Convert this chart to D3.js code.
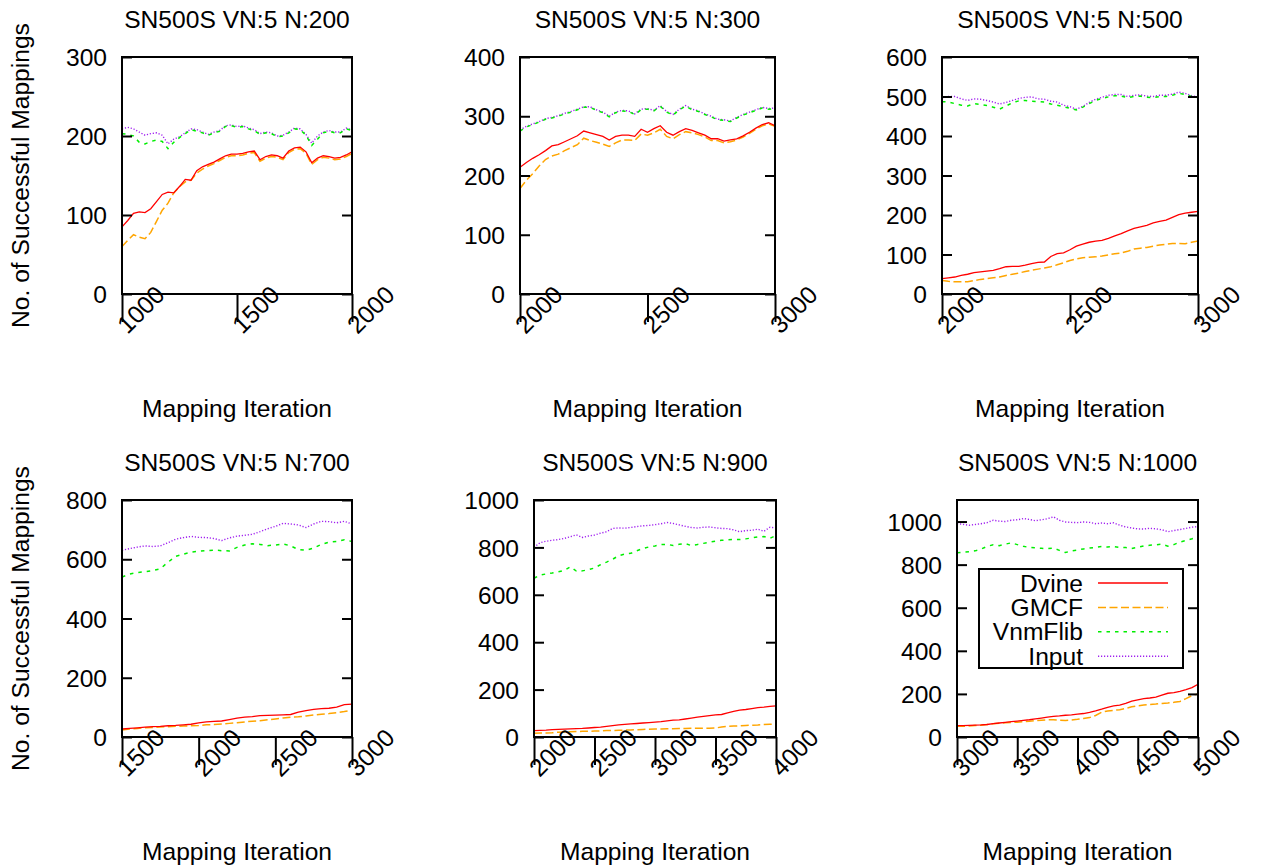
<!DOCTYPE html>
<html><head><meta charset="utf-8">
<script src="https://cdn.jsdelivr.net/npm/d3@7"></script>
<style>body{margin:0;background:#fff} text{font-family:"Liberation Sans",Arial,Helvetica,sans-serif;}</style>
</head><body><svg id="c" width="1261" height="867"></svg>
<script>
// ---------------- data ----------------
const seriesNames = ["Dvine", "GMCF", "VnmFlib", "Input"];
const panelTitles = ["SN500S VN:5 N:200", "SN500S VN:5 N:300", "SN500S VN:5 N:500",
                     "SN500S VN:5 N:700", "SN500S VN:5 N:900", "SN500S VN:5 N:1000"];
const xDomains = [[1000, 2000], [2000, 3000], [2000, 3000], [1500, 3000], [2000, 4000], [3000, 5000]];
const xSampleSteps = [25, 25, 25, 50, 50, 50];
const xTickValues = [[1000, 1500, 2000], [2000, 2500, 3000], [2000, 2500, 3000],
                     [1500, 2000, 2500, 3000], [2000, 2500, 3000, 3500, 4000], [3000, 3500, 4000, 4500, 5000]];
const yDomains = [[0, 300], [0, 400], [0, 600], [0, 800], [0, 1000], [0, 1100]];
const yTickValues = [[0, 100, 200, 300], [0, 100, 200, 300, 400], [0, 100, 200, 300, 400, 500, 600],
                     [0, 200, 400, 600, 800], [0, 200, 400, 600, 800, 1000], [0, 200, 400, 600, 800, 1000]];
const xLabel = "Mapping Iteration";
const yLabel = "No. of Successful Mappings";

const p1Dvine   = [85,93,102,104,103,108,117,126,129,128,136,145,144,156,161,164,167,171,175,177,177,178,180,181,170,174,176,175,172,181,185,186,180,166,172,175,174,172,173,176,180];
const p1GMCF    = [60,68,75,72,70,78,92,106,115,128,136,142,144,153,158,162,165,169,173,175,175,176,178,179,168,172,174,173,170,179,183,184,178,164,170,173,172,170,171,174,178];
const p1VnmFlib = [203,202,200,192,190,193,195,193,184,192,198,203,208,206,204,201,204,206,212,213,211,212,209,207,202,204,203,199,200,204,209,208,201,188,196,204,206,204,204,209,207];
const p1Input   = [209,211,209,205,201,203,204,201,190,196,199,204,209,208,205,202,205,207,213,214,212,213,210,208,203,205,204,200,201,205,210,209,202,191,200,205,207,205,205,210,208];

const p2Dvine   = [214,222,229,235,242,250,252,257,262,267,275,272,269,266,260,266,268,268,266,278,273,279,284,273,268,274,279,276,272,268,262,262,258,260,262,267,273,280,286,289,284];
const p2GMCF    = [178,192,203,216,227,233,236,242,247,252,263,259,256,253,249,255,260,260,259,270,268,272,278,266,262,269,274,272,269,265,259,259,255,257,260,265,271,278,284,287,283];
const p2VnmFlib = [275,282,286,290,295,297,300,304,307,311,315,315,310,306,299,306,309,308,303,311,312,309,317,307,302,311,317,311,308,303,299,294,293,291,297,302,306,310,314,312,313];
const p2Input   = [277,283,287,291,296,298,301,305,308,312,316,316,311,307,300,307,310,309,304,312,313,310,318,308,303,312,318,312,309,304,300,295,294,292,298,303,307,311,315,313,314];

const p3Dvine   = [39,41,43,47,50,54,56,58,60,64,69,70,70,73,77,80,81,95,102,104,112,121,126,131,134,136,141,147,153,160,166,170,174,180,184,187,194,201,205,207,209];
const p3GMCF    = [34,32,31,31,31,34,37,39,41,43,47,50,53,57,60,63,66,69,74,79,85,89,92,93,94,96,99,102,104,108,114,116,118,121,124,126,128,128,127,131,134];
const p3VnmFlib = [487,486,482,478,476,482,480,477,473,468,476,484,489,490,488,487,486,481,478,474,470,466,473,482,490,495,499,502,501,497,500,501,498,497,500,500,503,508,505,500,497];
const p3Input   = [497,500,500,494,490,494,493,490,486,481,485,490,495,498,499,494,493,488,486,478,474,468,475,485,493,498,503,505,505,500,503,504,501,500,503,503,506,511,508,502,499];

const p4Dvine   = [27,29,31,33,35,36,38,39,41,43,48,51,53,54,59,64,67,69,72,73,74,75,76,84,89,93,96,97,101,109,111];
const p4GMCF    = [24,27,29,31,32,34,35,36,37,38,39,41,42,44,46,48,51,53,55,58,61,64,67,68,71,74,77,79,82,86,91];
const p4VnmFlib = [540,550,555,558,562,568,590,610,617,624,627,629,631,629,628,640,648,652,650,646,648,652,645,633,630,638,650,658,660,666,660];
const p4Input   = [630,636,641,645,643,645,656,668,673,677,674,673,670,663,672,678,681,684,693,703,711,721,719,716,707,719,728,727,723,728,719];

const p5Dvine   = [27,28,29,31,32,33,34,35,36,38,40,42,45,48,51,53,55,57,59,61,63,65,68,71,72,76,80,84,87,90,93,95,102,108,113,116,120,124,126,129,131];
const p5GMCF    = [16,17,17,18,20,21,22,23,24,24,25,26,27,27,28,29,30,31,32,33,34,34,35,35,36,36,37,37,37,37,38,42,45,46,47,49,50,51,53,54,55];
const p5VnmFlib = [670,683,688,692,697,703,718,700,701,706,713,727,738,750,765,772,775,786,795,802,806,812,813,808,813,816,808,812,817,822,826,830,832,834,833,836,840,844,846,838,850];
const p5Input   = [800,820,826,830,833,838,845,853,842,848,852,860,866,880,882,881,884,888,891,893,896,900,905,901,895,889,884,882,885,886,883,880,879,874,866,871,872,877,868,885,882];

const p6Dvine   = [53,53,54,55,56,58,62,65,68,71,74,77,80,84,88,92,96,98,101,103,106,109,114,121,129,138,144,148,156,166,172,178,181,185,194,203,206,212,220,229,245];
const p6GMCF    = [50,50,51,53,55,58,61,64,66,67,69,71,73,76,78,80,80,78,77,79,82,86,90,100,115,121,124,127,133,140,145,148,151,153,156,158,161,165,178,192,200];
const p6VnmFlib = [855,858,860,864,872,885,892,888,895,901,893,885,880,878,876,874,877,866,856,864,868,873,877,880,884,882,884,880,879,875,880,887,890,892,895,886,893,905,912,920,930];
const p6Input   = [990,987,983,986,990,995,1006,1002,1000,1006,1008,1014,1010,1004,1008,1013,1022,1006,998,996,995,998,996,990,993,990,994,983,975,970,966,965,969,966,962,953,958,963,968,974,977];

const panelSeries = [
  [p1Dvine, p1GMCF, p1VnmFlib, p1Input],
  [p2Dvine, p2GMCF, p2VnmFlib, p2Input],
  [p3Dvine, p3GMCF, p3VnmFlib, p3Input],
  [p4Dvine, p4GMCF, p4VnmFlib, p4Input],
  [p5Dvine, p5GMCF, p5VnmFlib, p5Input],
  [p6Dvine, p6GMCF, p6VnmFlib, p6Input]
];

// ---------------- layout & style ----------------
const boxes = [
  {l: 122, r: 352, t: 57, b: 294},
  {l: 520, r: 775, t: 57, b: 294},
  {l: 942, r: 1198, t: 57, b: 294},
  {l: 122, r: 352, t: 500, b: 737},
  {l: 534, r: 776, t: 500, b: 737},
  {l: 957, r: 1198, t: 500, b: 737}
];
const styles = [
  {color: "#ff0000", dash: null, width: 1.3},
  {color: "#ffa500", dash: "8,3.5", width: 1.5},
  {color: "#00ee00", dash: "3.5,5", width: 1.5},
  {color: "#a020f0", dash: "1.2,1.8", width: 1.4}
];
const FONT = 24.6;

const svg = d3.select("#c");
svg.append("rect").attr("width", 1261).attr("height", 867).attr("fill", "#fff");
const defs = svg.append("defs");

boxes.forEach((bx, i) => {
  const x = d3.scaleLinear().domain(xDomains[i]).range([bx.l, bx.r]);
  const y = d3.scaleLinear().domain(yDomains[i]).range([bx.b, bx.t]);
  const g = svg.append("g");
  const xs = d3.range(xDomains[i][0], xDomains[i][1] + 1, xSampleSteps[i]);

  defs.append("clipPath").attr("id", "clip" + i)
    .append("rect").attr("x", bx.l).attr("y", bx.t).attr("width", bx.r - bx.l).attr("height", bx.b - bx.t);

  const order = [3, 2, 1, 0];
  order.forEach(s => {
    const vals = panelSeries[i][s];
    const line = d3.line().x((d, k) => x(xs[k])).y(d => y(d));
    g.append("path").attr("d", line(vals))
      .attr("clip-path", `url(#clip${i})`)
      .attr("fill", "none").attr("stroke", styles[s].color)
      .attr("stroke-width", styles[s].width)
      .attr("stroke-dasharray", styles[s].dash);
  });

  const yl = g.append("g").attr("transform", `translate(${bx.l},0)`)
    .call(d3.axisLeft(y).tickValues(yTickValues[i]).tickSize(-10).tickPadding(15).tickFormat(d3.format("d")));
  yl.select(".domain").remove();
  yl.selectAll("line").attr("stroke", "#000").attr("stroke-width", 2);
  yl.selectAll("text").attr("font-size", FONT).attr("fill", "#000")
    .attr("font-family", '"Liberation Sans", Arial, sans-serif').attr("dy", "0.35em");

  const yr = g.append("g").attr("transform", `translate(${bx.r},0)`)
    .call(d3.axisRight(y).tickValues(yTickValues[i]).tickSize(-10).tickFormat(""));
  yr.select(".domain").remove();
  yr.selectAll("line").attr("stroke", "#000").attr("stroke-width", 2);

  const xa = g.append("g").attr("transform", `translate(0,${bx.b})`)
    .call(d3.axisBottom(x).tickValues(xTickValues[i]).tickSize(28).tickFormat(d3.format("d")));
  xa.select(".domain").remove();
  xa.selectAll("line").attr("stroke", "#000").attr("stroke-width", 2);
  xa.selectAll("text").attr("font-size", FONT).attr("fill", "#000")
    .attr("font-family", '"Liberation Sans", Arial, sans-serif')
    .attr("text-anchor", "start").attr("x", 0).attr("y", 0).attr("dy", 0)
    .attr("transform", "translate(5,41) rotate(-45)");

  g.append("rect").attr("x", bx.l).attr("y", bx.t).attr("width", bx.r - bx.l).attr("height", bx.b - bx.t)
    .attr("fill", "none").attr("stroke", "#000").attr("stroke-width", 2);

  g.append("text").attr("x", (bx.l + bx.r) / 2).attr("y", bx.t - 29)
    .attr("text-anchor", "middle").attr("font-size", FONT).text(panelTitles[i]);

  g.append("text").attr("x", (bx.l + bx.r) / 2).attr("y", bx.b + 123)
    .attr("text-anchor", "middle").attr("font-size", FONT).text(xLabel);

  if (i === 0 || i === 3) {
    g.append("text").attr("transform", `translate(29,${(bx.t + bx.b) / 2}) rotate(-90)`)
      .attr("text-anchor", "middle").attr("font-size", FONT).text(yLabel);
  }

  if (i === 5) {
    const lg = g.append("g");
    lg.append("rect").attr("x", 979).attr("y", 569).attr("width", 204).attr("height", 99)
      .attr("fill", "#fff").attr("stroke", "#000").attr("stroke-width", 2);
    seriesNames.forEach((name, s) => {
      const cy = 583 + s * 24.4;
      lg.append("text").attr("x", 1083).attr("y", cy).attr("dy", "0.35em")
        .attr("text-anchor", "end").attr("font-size", FONT).text(name);
      lg.append("line").attr("x1", 1098).attr("x2", 1168).attr("y1", cy).attr("y2", cy)
        .attr("stroke", styles[s].color).attr("stroke-width", styles[s].width)
        .attr("stroke-dasharray", styles[s].dash);
    });
  }
});
</script></body></html>
